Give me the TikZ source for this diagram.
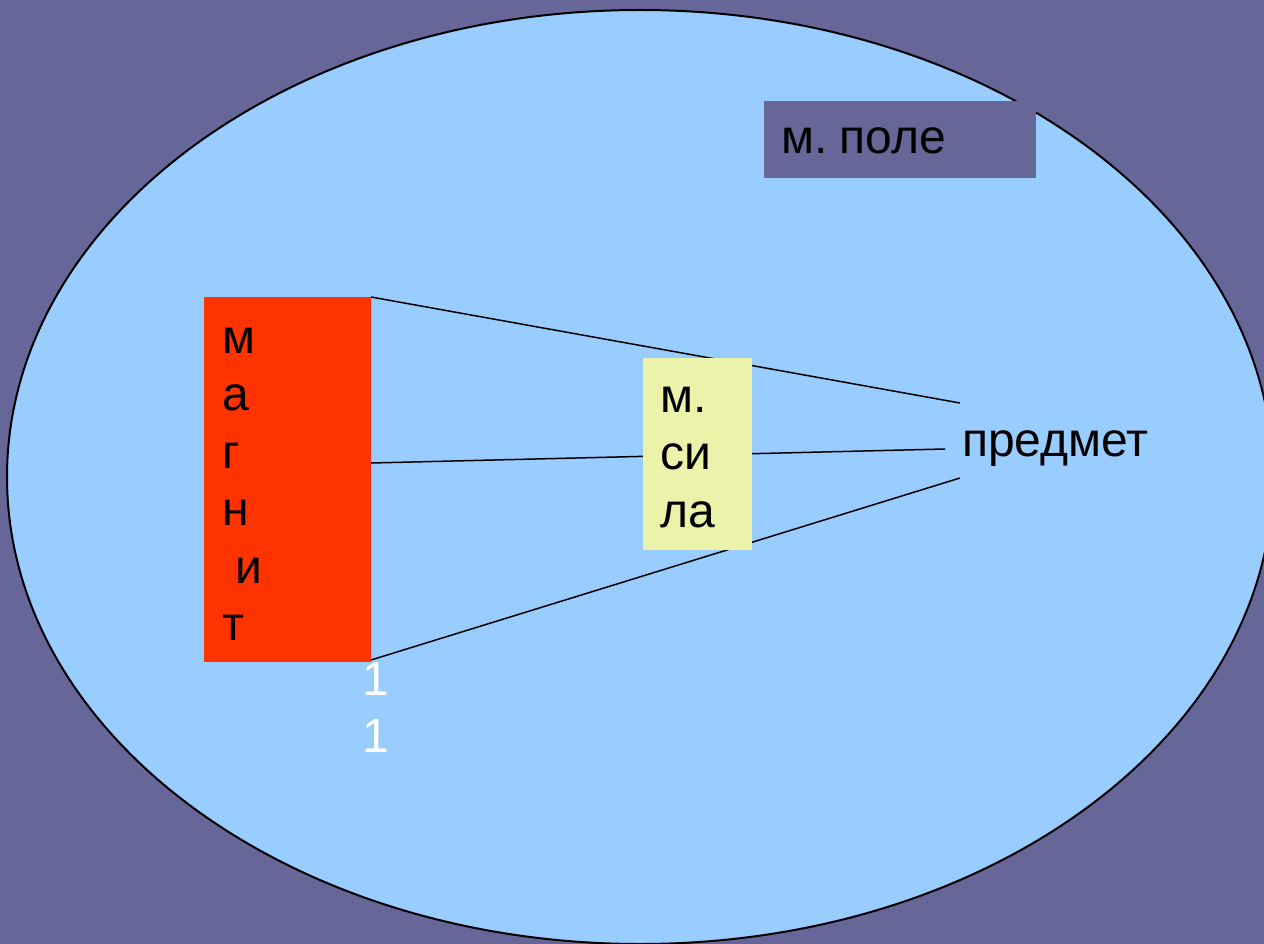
\documentclass[tikz,border=0pt]{standalone}
\usepackage{fontspec}
\setmainfont{Liberation Sans}
\definecolor{slate}{HTML}{666699}
\definecolor{sky}{HTML}{99CCFF}
\definecolor{magred}{HTML}{FF3300}
\definecolor{paleyellow}{HTML}{EBF3AB}
\tikzset{
  txt/.style={inner sep=0pt, anchor=base west, font=\fontsize{48}{57.5}\selectfont, text=black},
  wire/.style={draw=black, line width=1.5pt},
  panel/.style={inner sep=0pt, anchor=north west}
}
\begin{document}
\begin{tikzpicture}[x=1pt,y=-1pt]
  % page and background
  \useasboundingbox (0,0) rectangle (1264,944);
  \clip (0,0) rectangle (1264,944);
  \fill[slate] (0,0) rectangle (1264,944);
  % field region
  \draw[fill=sky, draw=black, line width=2pt] (640,477) ellipse [x radius=633, y radius=467];

  % connection points
  \coordinate (m1) at (371,297);
  \coordinate (m2) at (371,463);
  \coordinate (m3) at (371,660);
  \coordinate (p1) at (960,403);
  \coordinate (p2) at (945,449);
  \coordinate (p3) at (960,478);
  \draw[wire] (m1) -- (p1);
  \draw[wire] (m2) -- (p2);
  \draw[wire] (m3) -- (p3);

  % magnet
  \node[panel, fill=magred, minimum width=167pt, minimum height=365pt] (magnet) at (204,297) {};
  \foreach \t/\dx [count=\i] in {м/0,а/0,г/0,н/0,и/13.3,т/0}
    \node[txt] (mg\i) at (222+\dx, 353+57.5*\i-57.5) {\t};

  % force label
  \node[panel, fill=paleyellow, minimum width=109pt, minimum height=192pt] (force) at (643,358) {};
  \node[txt] (f1) at (660,412) {м.};
  \node[txt] (f2) at (660,469.5) {си};
  \node[txt] (f3) at (660,527) {ла};

  % field label
  \node[panel, fill=slate, minimum width=272pt, minimum height=77pt] (field) at (764,101) {};
  \node[txt] (fl) at (781,154) {м.\kern-1.5pt\ поле};

  % object
  \node[txt] (obj) at (962,456) {предмет};

  % numbers
  \node[txt, text=white] (n1) at (362,695) {1};
  \node[txt, text=white] (n2) at (362,752) {1};
\end{tikzpicture}
\end{document}
